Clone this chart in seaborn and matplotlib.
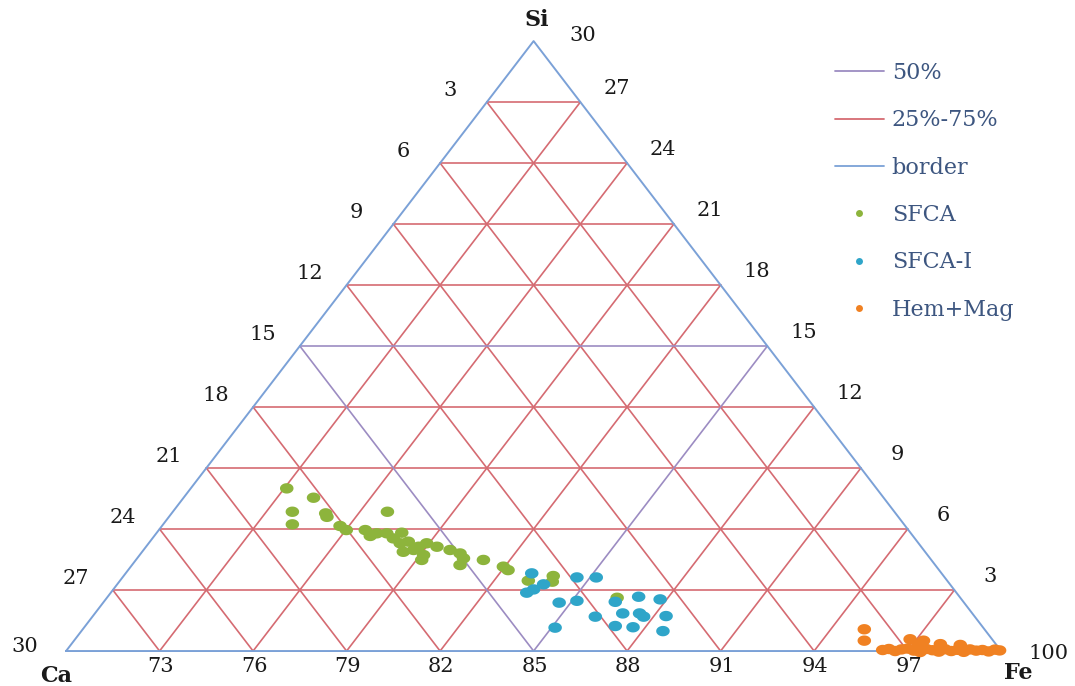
import numpy as np
import pandas as pd
import matplotlib.pyplot as plt
import seaborn as sns
from matplotlib.lines import Line2D
from matplotlib.path import Path

# ternary grid: bottom axis runs 70 -> 100 (Ca corner -> Fe corner), Si runs 0 -> 30 (apex)
bottom_ticks = [73, 76, 79, 82, 85, 88, 91, 94, 97]
si_levels = [3, 6, 9, 12, 15, 18, 21, 24, 27]
left_labels = [27, 24, 21, 18, 15, 12, 9, 6, 3]   # bottom -> top
right_labels = [3, 6, 9, 12, 15, 18, 21, 24, 27]  # bottom -> top

# points (bottom-axis position, Si height)
sfca_fe = [77.08, 77.94, 77.26, 77.26, 78.33, 78.37, 78.79, 78.99, 80.31, 79.60,
           79.76, 79.97, 80.29, 80.50, 80.77, 80.72, 80.98, 80.82, 81.15, 81.31,
           81.47, 81.57, 81.90, 81.41, 82.32, 82.64, 82.75, 82.64, 83.39, 84.03,
           84.18, 85.63, 84.83, 85.60, 87.68]
sfca_si = [8.00, 7.54, 6.85, 6.23, 6.77, 6.60, 6.15, 5.95, 6.85, 5.95,
           5.66, 5.79, 5.79, 5.54, 5.82, 5.30, 5.38, 4.88, 4.97, 5.13,
           4.72, 5.30, 5.13, 4.48, 4.97, 4.80, 4.56, 4.23, 4.48, 4.15,
           3.98, 3.69, 3.46, 3.41, 2.62]

sfcai_fe = [84.94, 86.39, 87.01, 85.32, 85.00, 84.78, 85.82, 86.39, 87.62, 88.37,
            89.06, 86.98, 87.86, 88.40, 88.53, 89.25, 87.62, 88.19, 85.69, 89.15]
sfcai_si = [3.82, 3.62, 3.62, 3.28, 3.03, 2.87, 2.38, 2.47, 2.42, 2.67,
            2.54, 1.69, 1.85, 1.85, 1.69, 1.72, 1.23, 1.17, 1.15, 0.98]

hm_fe = [95.61, 95.61, 97.08, 97.51, 97.34, 98.05, 98.69,
         96.2, 96.4, 96.6, 96.8, 97.0, 97.2, 97.4, 97.6, 97.8, 98.0,
         98.2, 98.4, 98.6, 98.8, 99.0, 99.2, 99.4, 99.6, 99.8, 99.95]
hm_si = [1.07, 0.51, 0.58, 0.51, 0.30, 0.34, 0.30,
         0.05, 0.10, 0.00, 0.08, 0.12, 0.02, -0.05, 0.10, 0.04, -0.03,
         0.09, 0.00, 0.06, -0.04, 0.08, 0.02, 0.05, -0.02, 0.07, 0.03]

groups = ['SFCA', 'SFCA-I', 'Hem+Mag']
colors = {'SFCA': '#8DB43C', 'SFCA-I': '#2FA5C9', 'Hem+Mag': '#F08122'}
c_grid = '#D56B72'
c_half = '#9C8CC2'
c_border = '#7BA1D7'

df = pd.concat([
    pd.DataFrame({'fe': sfca_fe, 'si': sfca_si, 'group': 'SFCA'}),
    pd.DataFrame({'fe': sfcai_fe, 'si': sfcai_si, 'group': 'SFCA-I'}),
    pd.DataFrame({'fe': hm_fe, 'si': hm_si, 'group': 'Hem+Mag'}),
], ignore_index=True)

sns.set_style('white')
plt.rcParams['font.family'] = ['DejaVu Serif']

fig = plt.figure(figsize=(10.75, 6.86), dpi=100)
ax = fig.add_axes([0, 0, 1, 1])
ax.set_xlim(67.88, 102.37)
ax.set_ylim(-1.72, 32.02)
ax.axis('off')

lo, hi, top = 70, 100, 30

# grid lines, 50% lines drawn after the 25-75% ones
for half in (False, True):
    for t, lev in zip(bottom_ticks, si_levels):
        if (lev == 15) != half:
            continue
        col = c_half if half else c_grid
        k = (t - lo) / 3
        # horizontal at Si = lev
        ax.plot([lo + lev / 2, hi - lev / 2], [lev, lev], color=col, lw=1.2, zorder=1)
        # parallel to the left side
        ax.plot([t, t + 1.5 * (10 - k)], [0, 3 * (10 - k)], color=col, lw=1.2, zorder=1)
        # parallel to the right side
        ax.plot([t, lo + 1.5 * k], [0, 3 * k], color=col, lw=1.2, zorder=1)

ax.plot([lo, hi, (lo + hi) / 2, lo], [0, 0, top, 0], color=c_border, lw=1.4, zorder=2)

# slightly wide dots like the original
th = np.linspace(0, 2 * np.pi, 40)
oval = Path(np.column_stack([1.3 * np.cos(th), np.sin(th)]))
sns.scatterplot(data=df, x='fe', y='si', hue='group', hue_order=groups,
                palette=colors, marker=oval, s=95, linewidth=0, legend=False,
                ax=ax, zorder=3)

num = dict(fontsize=15, color='#1A1A1A', ha='center', va='center')
for t in bottom_ticks:
    ax.annotate(str(t), (t, 0), xytext=(1, -15), textcoords='offset pixels', **num)
for lev, lab in zip(si_levels, left_labels):
    ax.annotate(str(lab), (lo + lev / 2, lev), xytext=(-37, 12), textcoords='offset pixels', **num)
for lev, lab in zip(si_levels, right_labels):
    ax.annotate(str(lab), (hi - lev / 2, lev), xytext=(36, 14), textcoords='offset pixels', **num)
ax.annotate('30', (lo, 0), xytext=(-41, 5), textcoords='offset pixels', **num)
ax.annotate('100', (hi, 0), xytext=(47, -2), textcoords='offset pixels', **num)
ax.annotate('30', ((lo + hi) / 2, top), xytext=(49, 6), textcoords='offset pixels', **num)

corner = dict(fontsize=16, fontweight='bold', color='#1A1A1A', ha='center', va='center')
ax.annotate('Ca', (lo, 0), xytext=(-10, -25), textcoords='offset pixels', **corner)
ax.annotate('Fe', (hi, 0), xytext=(17, -22), textcoords='offset pixels', **corner)
ax.annotate('Si', ((lo + hi) / 2, top), xytext=(3, 21), textcoords='offset pixels', **corner)

handles = [Line2D([], [], color=c_half, lw=1.3),
           Line2D([], [], color=c_grid, lw=1.3),
           Line2D([], [], color=c_border, lw=1.3)]
for g in groups:
    handles.append(Line2D([], [], ls='none', marker='o', markersize=5,
                          markerfacecolor=colors[g], markeredgewidth=0))
leg = ax.legend(handles, ['50%', '25%-75%', 'border'] + groups,
                loc='upper left', bbox_to_anchor=(835 / 1075, 1 - 62 / 686),
                frameon=False, fontsize=16, handlelength=2.2, handletextpad=0.35,
                labelspacing=1.14, borderpad=0, borderaxespad=0)
for txt in leg.get_texts():
    txt.set_color('#3D5680')

fig.savefig('out.png', dpi=100)
